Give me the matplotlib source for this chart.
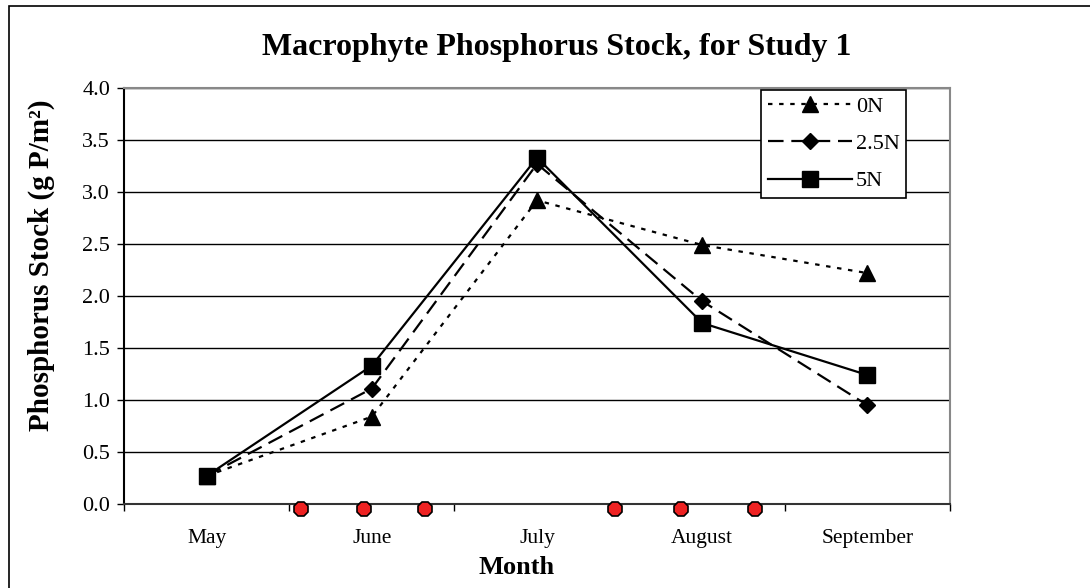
import matplotlib.pyplot as plt
from matplotlib.patches import Rectangle

# data
months = ['May', 'June', 'July', 'August', 'September']
stock_0n = [0.27, 0.84, 2.92, 2.49, 2.22]
stock_25n = [0.27, 1.11, 3.27, 1.95, 0.95]
stock_5n = [0.27, 1.33, 3.33, 1.74, 1.24]
# red markers along the axis (position in month units)
event_pos = [0.57, 0.95, 1.32, 2.47, 2.87, 3.32]
event_val = [-0.045] * len(event_pos)

plt.rcParams['font.family'] = ['Liberation Serif', 'DejaVu Serif']

fig = plt.figure(figsize=(10.9, 5.88), dpi=100)
ax = fig.add_axes([0.1138, 0.1429, 0.7578, 0.7074])

x = list(range(len(months)))
ax.plot(x, stock_0n, color='black', lw=1.6, linestyle=(0, (2, 3)),
        marker='^', markersize=11, label='0N')
ax.plot(x, stock_25n, color='black', lw=1.6, linestyle=(0, (7, 3.5)),
        marker='D', markersize=8, label='2.5N')
ax.plot(x, stock_5n, color='black', lw=1.6, linestyle='-',
        marker='s', markersize=11, label='5N')
ax.plot(event_pos, event_val, linestyle='none', marker='8', markersize=11,
        markerfacecolor='#ee2222', markeredgecolor='black', markeredgewidth=1.2,
        clip_on=False, zorder=5)

ax.set_xlim(-0.5, len(months) - 0.5)
ax.set_ylim(0, 4.0)
ax.set_yticks([i * 0.5 for i in range(9)])
ax.set_yticklabels([f'{i * 0.5:.1f}' for i in range(9)], fontsize=16)
ax.set_xticks([i - 0.5 for i in range(len(months) + 1)])
ax.set_xticklabels([])
ax.set_xticks(x, minor=True)
ax.set_xticklabels(months, minor=True, fontsize=15.5)
ax.tick_params(axis='x', which='minor', length=0, pad=18)
ax.tick_params(axis='x', which='major', length=5, direction='out', width=1)
ax.tick_params(axis='y', length=5, direction='out', width=1, pad=5)
ax.grid(axis='y', color='black', lw=1)
ax.set_axisbelow(True)

ax.spines['left'].set_color('black')
ax.spines['bottom'].set_color('#333333')
ax.spines['top'].set_color('#888888')
ax.spines['right'].set_color('#888888')
for s in ax.spines.values():
    s.set_linewidth(1.5)

fig.text(557 / 1090, 1 - 48 / 588, 'Macrophyte Phosphorus Stock, for Study 1',
         fontsize=23, fontweight='bold', ha='center', va='center')
ax.set_xlabel('Month', fontsize=19, fontweight='bold')
ax.xaxis.set_label_coords(0.475, -0.125)
ax.set_ylabel('Phosphorus Stock (g P/m²)', fontsize=21, fontweight='bold')
ax.yaxis.set_label_coords(-0.084, 0.575)

leg = ax.legend(loc='upper right', bbox_to_anchor=(0.947, 0.996), fontsize=16,
                handlelength=3.8, handletextpad=0.15, labelspacing=0.75,
                fancybox=False, framealpha=1, borderpad=0.3, borderaxespad=0)
leg.get_frame().set_edgecolor('black')
leg.get_frame().set_linewidth(1.2)

fig.patches.append(Rectangle((9 / 1090, -0.1), 1.2, 1.1 - 6 / 588,
                             transform=fig.transFigure, fill=False,
                             edgecolor='black', lw=1.2))

fig.savefig('out.png', dpi=100)
